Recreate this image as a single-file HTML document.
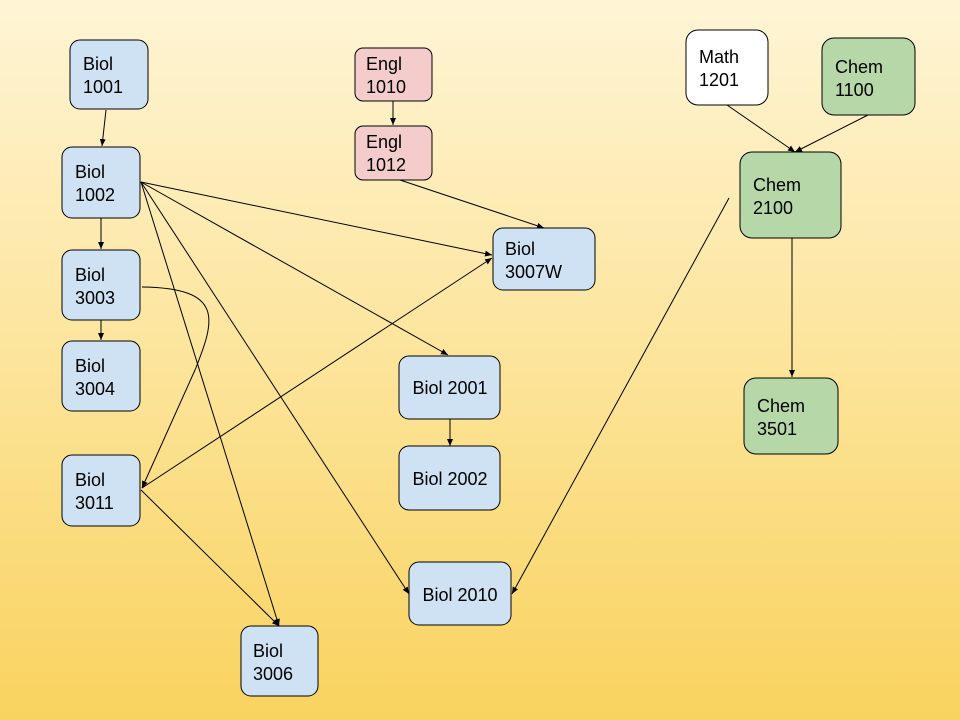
<!DOCTYPE html>
<html><head><meta charset="utf-8"><style>
html,body{margin:0;padding:0;}
body{width:960px;height:720px;overflow:hidden;background:linear-gradient(#fff5d6,#f9d35f);}
svg{display:block;font-family:"Liberation Sans",sans-serif;font-size:18px;}
</style></head><body>
<svg width="960" height="720" viewBox="0 0 960 720">
<defs><marker id="a" markerWidth="8" markerHeight="8" refX="7" refY="4" orient="auto" markerUnits="userSpaceOnUse"><path d="M0,1 L7,4 L0,7 z" fill="#000"/></marker></defs>
<g stroke="#000" stroke-width="1" fill="none" marker-end="url(#a)">
<line x1="106" y1="110" x2="102" y2="146"/>
<line x1="101" y1="218" x2="101" y2="249"/>
<line x1="101" y1="320" x2="101" y2="340"/>
<line x1="141" y1="182" x2="492" y2="255"/>
<line x1="141" y1="182" x2="448" y2="355"/>
<line x1="141" y1="182" x2="409" y2="594"/>
<line x1="141" y1="182" x2="279" y2="626"/>
<path d="M142,287 C225,288 215,320 195,370 L142,488"/>
<line x1="142" y1="488" x2="492" y2="258"/>
<line x1="141" y1="490" x2="279" y2="626"/>
<line x1="393" y1="101" x2="393" y2="125"/>
<line x1="400" y1="180" x2="544" y2="228"/>
<line x1="450" y1="419" x2="450" y2="446"/>
<line x1="729" y1="198" x2="512" y2="594"/>
<line x1="727" y1="105" x2="795" y2="152"/>
<line x1="868" y1="115" x2="795" y2="152"/>
<line x1="792" y1="238" x2="792" y2="377"/>
</g>
<g stroke="#000" stroke-width="1">
<rect x="70" y="40" width="78" height="69" rx="10" fill="#cfe2f3"/>
<rect x="62" y="147" width="78" height="71" rx="10" fill="#cfe2f3"/>
<rect x="62" y="250" width="78" height="70" rx="10" fill="#cfe2f3"/>
<rect x="62" y="341" width="78" height="70" rx="10" fill="#cfe2f3"/>
<rect x="62" y="455" width="78" height="71" rx="10" fill="#cfe2f3"/>
<rect x="241" y="626" width="77" height="70" rx="10" fill="#cfe2f3"/>
<rect x="355" y="48" width="77" height="53" rx="8" fill="#f4cccc"/>
<rect x="355" y="126" width="77" height="54" rx="8" fill="#f4cccc"/>
<rect x="493" y="228" width="102" height="62" rx="10" fill="#cfe2f3"/>
<rect x="399" y="356" width="101" height="63" rx="10" fill="#cfe2f3"/>
<rect x="399" y="446" width="101" height="64" rx="10" fill="#cfe2f3"/>
<rect x="409" y="562" width="102" height="63" rx="10" fill="#cfe2f3"/>
<rect x="686" y="30" width="82" height="75" rx="12" fill="#ffffff"/>
<rect x="822" y="38" width="93" height="77" rx="12" fill="#b6d7a8"/>
<rect x="740" y="152" width="101" height="86" rx="12" fill="#b6d7a8"/>
<rect x="744" y="378" width="94" height="76" rx="12" fill="#b6d7a8"/>
</g>
<g fill="#000">
<text x="83" y="70">Biol</text><text x="83" y="93">1001</text>
<text x="75" y="178">Biol</text><text x="75" y="201">1002</text>
<text x="75" y="281">Biol</text><text x="75" y="304">3003</text>
<text x="75" y="372">Biol</text><text x="75" y="395">3004</text>
<text x="75" y="486">Biol</text><text x="75" y="509">3011</text>
<text x="253" y="657">Biol</text><text x="253" y="680">3006</text>
<text x="366" y="70">Engl</text><text x="366" y="93">1010</text>
<text x="366" y="148">Engl</text><text x="366" y="171">1012</text>
<text x="505" y="255">Biol</text><text x="505" y="278">3007W</text>
<text x="450" y="394" text-anchor="middle">Biol 2001</text>
<text x="450" y="485" text-anchor="middle">Biol 2002</text>
<text x="460" y="601" text-anchor="middle">Biol 2010</text>
<text x="699" y="63">Math</text><text x="699" y="86">1201</text>
<text x="835" y="73">Chem</text><text x="835" y="96">1100</text>
<text x="753" y="191">Chem</text><text x="753" y="214">2100</text>
<text x="757" y="412">Chem</text><text x="757" y="435">3501</text>
</g>
</svg>
</body></html>
